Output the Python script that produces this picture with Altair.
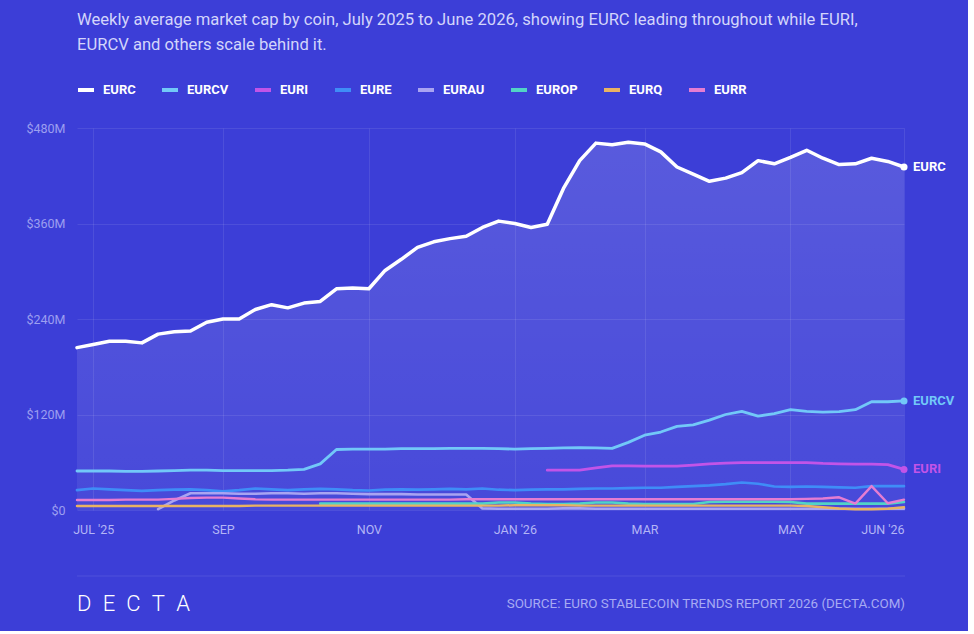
import altair as alt
import pandas as pd

# ---------------- data (values in $M, weekly index 0..51) ----------------
coins = ["EURC", "EURCV", "EURI", "EURE", "EURAU", "EUROP", "EURQ", "EURR"]
coin_colors = ["#FFFFFF", "#72C8F8", "#C254E8", "#3F8DF7", "#A9A4F2", "#52D3C6", "#E9B263", "#E57DD2"]
labelled_coins = ["EURC", "EURCV", "EURI"]

tick_weeks = [1, 9, 18, 27, 35, 44, 51]
tick_labels = ["JUL '25", "SEP", "NOV", "JAN '26", "MAR", "MAY", "JUN '26"]
y_ticks = [0, 120, 240, 360, 480]

eurc = [204, 208, 212, 212, 210, 221, 224, 225, 236, 240, 240, 252, 258, 254, 260, 262,
        278, 279, 278, 301, 315, 330, 337, 341, 344, 355, 363, 360, 355, 359, 404, 439,
        461, 459, 462, 460, 450, 431, 422, 413, 417, 424, 439, 435, 443, 452, 442, 434,
        435, 442, 438, 431]
eurcv = [49, 49, 49, 48.5, 48.5, 49, 49.5, 50, 50, 49.5, 49.5, 49.5, 49.5, 50, 51, 58,
         76, 76.5, 76.5, 76.5, 77, 77, 77, 77.5, 77.5, 77.5, 77, 76.5, 77, 77.5, 78, 78.5,
         78, 77.5, 85, 94, 98, 105, 107, 113, 120, 124, 118, 121, 126, 124, 123, 123.5,
         126, 136, 136, 137]
euri = [None] * 29 + [50, 50, 50, 53, 55.5, 55.5, 55, 55, 55, 56.5, 58, 59, 59.5, 59.5,
                      59.5, 59.5, 59.5, 58.5, 58, 57.5, 57.5, 57, 51]
eure = [25, 27, 26, 25, 24, 25, 25.5, 26, 25, 23.5, 25, 27, 26, 25, 26, 26.5, 26, 25,
        24.5, 25.5, 26, 25.5, 26, 26.5, 26, 27, 25.5, 25, 25.5, 26, 26, 26.5, 27, 27,
        27.5, 28, 28, 29, 30, 31, 32.5, 34.5, 33, 29.5, 29, 29.5, 29, 28.5, 28, 30, 30, 30]
eurau = [None] * 5 + [1, 12, 21, 21, 21, 20.5, 20.5, 21, 21, 20.5, 21, 21, 20.5, 20, 20,
                      20, 19.5, 19.5, 19.5, 19.5, 2, 1.5, 1.5, 1.5, 1.5, 2, 2, 1.5, 1.5,
                      1.5, 1.5, 1.5, 1.5, 1.5, 1.5, 1.5, 1.5, 1.5, 1.5, 1.5, 1.5, 1.5,
                      1.5, 1.5, 1.5, 1.5, 1.5]
europ = [None] * 15 + [8, 8, 8, 8, 8, 8, 8, 8, 8, 8, 8, 9.5, 9.5, 8, 7.5, 7.5, 8, 9.5,
                       9.5, 8, 7.5, 7.5, 7.5, 7.5, 10, 10.5, 10.5, 10.5, 10.5, 10, 8,
                       8, 8, 8, 8, 8, 10]
eurq = [5, 5, 5, 5, 5, 5, 5, 5, 5, 5, 5, 5.5, 5.5, 5.5, 5.5, 5.5, 5.5, 5.5, 5.5, 5.5,
        5.5, 5.5, 5.5, 5.5, 5.5, 5.5, 5.5, 6, 6, 6, 6, 5.5, 5.5, 5.5, 5.5, 5.5, 5.5, 5.5,
        5.5, 5.5, 5.5, 5.5, 5.5, 5.5, 5.5, 5, 3.5, 2, 1, 1, 1.5, 3.5]
eurr = [12.5, 12.5, 12.5, 13, 13, 13, 14, 15, 15.5, 15.5, 14.5, 13.5, 13, 13, 13, 13,
        13, 13, 13, 13, 13, 13, 13, 13, 13.5, 13.5, 13.5, 13.5, 13.5, 13.5, 13.5, 13.5,
        13.5, 13.5, 13.5, 13.5, 13.5, 13.5, 13.5, 13.5, 13.5, 13.5, 13.5, 13.5, 13.5,
        14, 14.5, 16, 8, 30, 8.5, 13]

title_lines = [
    "Weekly average market cap by coin, July 2025 to June 2026, showing EURC leading throughout while EURI,",
    "EURCV and others scale behind it.",
]
brand = "D\u2002E\u2002C\u2002T\u2002A"
source = "SOURCE: EURO STABLECOIN TRENDS REPORT 2026 (DECTA.COM)"

series = dict(zip(coins, [eurc, eurcv, euri, eure, eurau, europ, eurq, eurr]))
rows = []
for name, vals in series.items():
    for w, v in enumerate(vals):
        if v is not None:
            rows.append({"week": w, "coin": name, "value": v,
                         "last": w == len(vals) - 1 and name in labelled_coins})
df = pd.DataFrame(rows)

# ---------------- styling ----------------
BG = "#3C3ED7"
FONT = "Roboto"
W, H = 827, 382

label_expr = " : ".join(
    f'datum.value == {w} ? "{t}"' for w, t in zip(tick_weeks, tick_labels)
) + ' : ""'

x_enc = alt.X(
    "week:Q",
    scale=alt.Scale(domain=[0, 51], nice=False, zero=False),
    axis=alt.Axis(values=tick_weeks, labelExpr=label_expr, title=None, domain=False,
                  ticks=False, grid=True, labelPadding=13, labelFontSize=12.5,
                  labelColor="#B3B5F6", labelFont=FONT, gridColor="#FFFFFF",
                  gridOpacity=0.09),
)
y_enc = alt.Y(
    "value:Q",
    scale=alt.Scale(domain=[0, 480], nice=False),
    axis=alt.Axis(values=y_ticks, labelExpr="datum.value == 0 ? '$0' : '$' + datum.value + 'M'",
                  title=None, domain=False, ticks=False, grid=True, labelPadding=12,
                  labelFontSize=12.5, labelColor="#9C9FF0", labelFont=FONT,
                  gridColor="#FFFFFF", gridOpacity=0.09),
)
color_enc = alt.Color(
    "coin:N",
    scale=alt.Scale(domain=coins, range=coin_colors),
    legend=alt.Legend(title=None, orient="none", legendX=-1, legendY=-48, direction="horizontal",
                      symbolType="stroke", symbolSize=256, symbolStrokeWidth=4,
                      labelFont=FONT, labelFontSize=13, labelFontWeight="bold",
                      labelColor="#FFFFFF", labelOffset=7, columnPadding=18, padding=0),
)

base = alt.Chart(df)

area = base.transform_filter(alt.datum.coin == "EURC").mark_area(
    interpolate="linear",
    fill=alt.Gradient(
        gradient="linear",
        stops=[alt.GradientStop(color="rgba(255,255,255,0.15)", offset=0),
               alt.GradientStop(color="rgba(255,255,255,0.06)", offset=1)],
        x1=0, x2=0, y1=0, y2=1,
    ),
).encode(x=x_enc, y=y_enc)

others = base.transform_filter(alt.datum.coin != "EURC").mark_line(
    interpolate="linear", strokeCap="round", strokeJoin="round"
).encode(
    x=x_enc, y=y_enc, color=color_enc,
    strokeWidth=alt.StrokeWidth("coin:N", scale=alt.Scale(domain=coins[1:], range=[2.8, 2.4, 2.2, 2, 2, 2, 2]), legend=None),
)

eurc_line = base.transform_filter(alt.datum.coin == "EURC").mark_line(
    interpolate="linear", strokeWidth=3.5, strokeCap="round", strokeJoin="round"
).encode(x=x_enc, y=y_enc, color=color_enc)

ends = base.transform_filter("datum.last")
dots = ends.mark_circle(size=50, opacity=1).encode(x=x_enc, y=y_enc, color=color_enc)
end_labels = ends.mark_text(align="left", baseline="middle", dx=9, font=FONT, fontSize=13,
                            fontWeight="bold").encode(x=x_enc, y=y_enc, color=color_enc, text="coin:N")

foot = alt.Chart(pd.DataFrame({"brand": [brand], "source": [source]}))
sep = foot.mark_rule(color="#FFFFFF", opacity=0.1, strokeWidth=1).encode(
    x=alt.value(0), x2=alt.value(W + 1), y=alt.value(448))
brand_txt = foot.mark_text(align="left", baseline="middle", font=FONT, fontSize=22,
                           fontWeight=300, color="#FFFFFF").encode(
    x=alt.value(0), y=alt.value(476), text="brand:N")
source_txt = foot.mark_text(align="right", baseline="middle", font=FONT, fontSize=13.4,
                            color="#A7AAF3").encode(
    x=alt.value(W + 1), y=alt.value(476), text="source:N")

chart = alt.layer(area, others, eurc_line, dots, end_labels, sep, brand_txt, source_txt).properties(
    width=W, height=H,
    background=BG,
    padding={"left": 77, "top": 128, "right": 64, "bottom": 121},
    autosize=alt.AutoSizeParams(type="none"),
    title=alt.TitleParams(text=title_lines, anchor="start", frame="group", font=FONT,
                          fontSize=16.6, fontWeight="normal", color="#D3D5FB",
                          lineHeight=25, offset=26),
).configure_view(stroke=None)

chart.save("out.html", embed_options={"renderer": "svg", "actions": False})
